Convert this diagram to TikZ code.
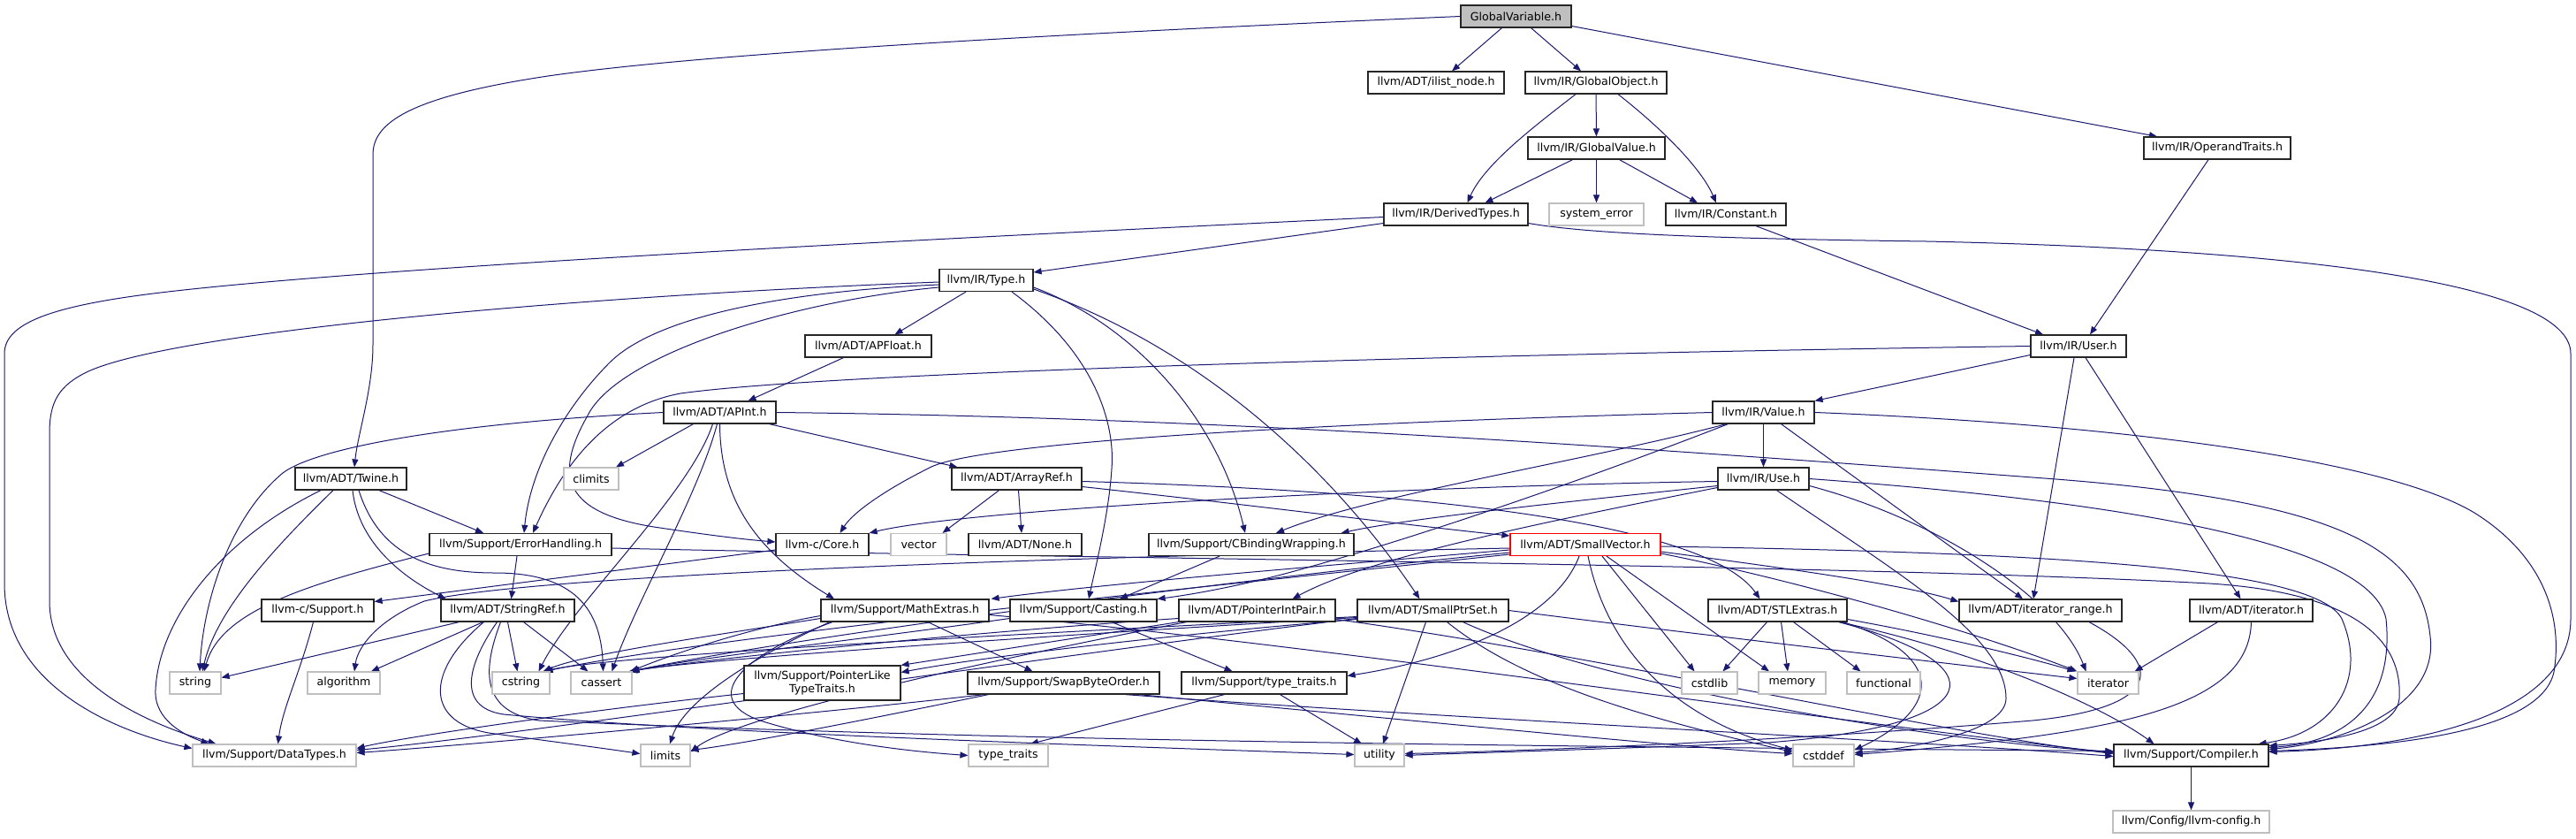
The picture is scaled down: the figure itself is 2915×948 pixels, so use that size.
\documentclass[tikz,border=0pt]{standalone}
\usepackage{fontspec}
\setmainfont{DejaVu Sans}
\usetikzlibrary{arrows.meta,calc}
\definecolor{edgeblue}{HTML}{191970}
\definecolor{sysgray}{HTML}{BFBFBF}
\pgfdeclarelayer{bgl}
\pgfdeclarelayer{edgel}
\pgfsetlayers{bgl,edgel,main}
\begin{document}
\begin{tikzpicture}[x=1pt,y=-1pt,
  nb/.style={draw=black!85,line width=1.2pt,rectangle,inner sep=0pt,minimum height=25pt,font=\fontsize{12.6}{15}\selectfont,fill=white},
  sys/.style={nb,draw=sysgray},
  e/.style={draw=edgeblue,line width=1pt,-{Triangle[length=9pt,width=7pt]}}]
\begin{pgfonlayer}{bgl}
\fill[white] (0,0) rectangle (2915,948);
\end{pgfonlayer}
\useasboundingbox (0,0) rectangle (2915,948);
% ---------- nodes ----------
\node[nb,fill=sysgray,minimum width=125pt] (gv) at (1715.5,18.5) {GlobalVariable.h};
\node[nb,minimum width=154pt] (ilist) at (1625,93.5) {llvm/ADT/ilist\_node.h};
\node[nb,minimum width=160pt] (gobj) at (1806,93.5) {llvm/IR/GlobalObject.h};
\node[nb,minimum width=155pt] (gval) at (1806.5,167.5) {llvm/IR/GlobalValue.h};
\node[nb,minimum width=166pt] (optr) at (2509,167.5) {llvm/IR/OperandTraits.h};
\node[nb,minimum width=163pt] (dtypes) at (1647.5,242.5) {llvm/IR/DerivedTypes.h};
\node[sys,minimum width=107pt] (syserr) at (1806.5,242.5) {system\_error};
\node[nb,minimum width=136pt] (const) at (1953,242.5) {llvm/IR/Constant.h};
\node[nb,minimum width=106pt] (type) at (1116,317) {llvm/IR/Type.h};
\node[nb,minimum width=143pt] (apfloat) at (982.5,391.5) {llvm/ADT/APFloat.h};
\node[nb,minimum width=108pt] (user) at (2352,391.5) {llvm/IR/User.h};
\node[nb,minimum width=127pt] (apint) at (814.5,466.5) {llvm/ADT/APInt.h};
\node[nb,minimum width=115pt] (value) at (1995.5,466.5) {llvm/IR/Value.h};
\node[nb,minimum width=126pt] (twine) at (397,541.5) {llvm/ADT/Twine.h};
\node[sys,minimum width=62pt] (climits) at (669,541.5) {climits};
\node[nb,minimum width=147pt] (arrayref) at (1150.5,541.5) {llvm/ADT/ArrayRef.h};
\node[nb,minimum width=103pt] (use) at (1995.5,541.5) {llvm/IR/Use.h};
\node[nb,minimum width=206pt] (errh) at (589,616) {llvm/Support/ErrorHandling.h};
\node[nb,minimum width=105pt] (core) at (930.5,616) {llvm-c/Core.h};
\node[sys,minimum width=63pt] (vector) at (1039.5,616) {vector};
\node[nb,minimum width=128pt] (none) at (1160,616) {llvm/ADT/None.h};
\node[nb,minimum width=232pt] (cbw) at (1416,616) {llvm/Support/CBindingWrapping.h};
\node[nb,draw=red,minimum width=170pt] (svec) at (1794,616) {llvm/ADT/SmallVector.h};
\node[nb,minimum width=127pt] (csupport) at (359.5,690.5) {llvm-c/Support.h};
\node[nb,minimum width=151pt] (stringref) at (574.5,690.5) {llvm/ADT/StringRef.h};
\node[nb,minimum width=190pt] (mathext) at (1024,690.5) {llvm/Support/MathExtras.h};
\node[nb,minimum width=166pt] (casting) at (1226,690.5) {llvm/Support/Casting.h};
\node[nb,minimum width=177pt] (pip) at (1422.5,690.5) {llvm/ADT/PointerIntPair.h};
\node[nb,minimum width=171pt] (sps) at (1621.5,690.5) {llvm/ADT/SmallPtrSet.h};
\node[nb,minimum width=157pt] (stlext) at (2011.5,690.5) {llvm/ADT/STLExtras.h};
\node[nb,minimum width=184pt] (itrange) at (2309,690.5) {llvm/ADT/iterator\_range.h};
\node[nb,minimum width=139pt] (iterh) at (2547.5,690.5) {llvm/ADT/iterator.h};
\node[sys,minimum width=58pt] (string) at (221,772.5) {string};
\node[sys,minimum width=82pt] (algorithm) at (389,772.5) {algorithm};
\node[sys,minimum width=65pt] (cstring) at (589.5,772.5) {cstring};
\node[sys,minimum width=69pt] (cassert) at (680.5,772.5) {cassert};
\node[nb,minimum width=177pt,minimum height=39pt,align=center] (pltt) at (930.5,772.5) {llvm/Support/PointerLike\\TypeTraits.h};
\node[nb,minimum width=217pt] (sbo) at (1203.5,772.5) {llvm/Support/SwapByteOrder.h};
\node[nb,minimum width=187pt] (sttraits) at (1430.5,772.5) {llvm/Support/type\_traits.h};
\node[sys,minimum width=63pt] (cstdlib) at (1934.5,772.5) {cstdlib};
\node[sys,minimum width=76pt] (memory) at (2028,772.5) {memory};
\node[sys,minimum width=83pt] (functional) at (2131.5,772.5) {functional};
\node[sys,minimum width=69pt] (iterator) at (2385.5,772.5) {iterator};
\node[sys,minimum width=185pt] (datatypes) at (310.5,854.5) {llvm/Support/DataTypes.h};
\node[sys,minimum width=56pt] (limits) at (753,854.5) {limits};
\node[sys,minimum width=90pt] (typetraits) at (1141,854.5) {type\_traits};
\node[sys,minimum width=56pt] (utility) at (1561,854.5) {utility};
\node[sys,minimum width=69pt] (cstddef) at (2063.5,854.5) {cstddef};
\node[nb,minimum width=175pt] (compiler) at (2479.5,854.5) {llvm/Support/Compiler.h};
\node[sys,minimum width=177pt] (llvmconfig) at (2479.5,929.5) {llvm/Config/llvm-config.h};
% ---------- edges (behind the nodes) ----------
\begin{pgfonlayer}{edgel}
\draw[e] ($(gv.south)+(-16,0)$) -- ($(ilist.north)+(18,0)$);
\draw[e] ($(gv.south)+(17,0)$) -- ($(gobj.north)+(-17,0)$);
\draw[e] ($(gv.east)+(0,11)$) -- ($(optr.north)+(-68,0)$);
\draw[e] (gv.west) .. controls (1200,38) and (800,60) .. (620,86) .. controls (460,110) and (422,140) .. (422,175) -- (422,390) .. controls (422,440) and (405,490) .. ($(twine.north)+(4,0)$);
\draw[e] ($(gobj.south)+(-23,0)$) .. controls (1740,140) and (1680,185) .. ($(dtypes.north)+(13,0)$);
\draw[e] (gobj) -- (gval);
\draw[e] ($(gobj.south)+(25,0)$) .. controls (1880,145) and (1925,190) .. ($(const.north)+(-11,0)$);
\draw[e] ($(gval.south)+(-27,0)$) -- ($(dtypes.north)+(33,0)$);
\draw[e] (gval) -- (syserr);
\draw[e] ($(gval.south)+(26,0)$) -- ($(const.north)+(-32,0)$);
\draw[e] ($(const.south)+(34,0)$) -- ($(user.north)+(-40,0)$);
\draw[e] ($(optr.south)+(-10,0)$) -- ($(user.north)+(13,0)$);
\draw[e] ($(dtypes.west)+(0,10)$) -- ($(type.east)+(0,-9)$);
\draw[e] ($(dtypes.west)+(0,3)$) .. controls (1100,268) and (450,300) .. (190,330) .. controls (60,345) and (5,365) .. (5,400) -- (5,660) .. controls (5,770) and (120,825) .. ($(datatypes.west)+(0,-8)$);
\draw[e] ($(dtypes.east)+(0,10)$) .. controls (1800,265) and (1950,270) .. (2180,273) .. controls (2600,282) and (2909,320) .. (2909,400) -- (2909,700) .. controls (2909,800) and (2760,845) .. ($(compiler.east)+(0,-4)$);
\draw[e] ($(type.south)+(-23,0)$) -- ($(apfloat.north)+(30,0)$);
\draw[e] ($(apfloat.south)+(-28,0)$) -- ($(apint.north)+(32,0)$);
\draw[e] ($(type.west)+(0,2)$) .. controls (650,335) and (200,375) .. (100,420) .. controls (66,436) and (56,455) .. (56,490) -- (56,680) .. controls (56,780) and (190,825) .. ($(datatypes.north)+(-66,0)$);
\draw[e] ($(type.west)+(0,5)$) .. controls (880,330) and (740,360) .. (690,410) .. controls (640,460) and (600,530) .. ($(errh.north)+(4,0)$);
\draw[e] ($(type.west)+(0,8)$) .. controls (900,340) and (700,400) .. (665,470) .. controls (625,540) and (640,580) .. (740,596) .. controls (800,605) and (840,610) .. ($(core.west)+(0,-3)$);
\draw[e] (user.west) .. controls (1700,400) and (950,420) .. (770,445) .. controls (690,460) and (640,520) .. ($(errh.north)+(14,0)$);
\draw[e] (apint.west) .. controls (520,478) and (360,505) .. (320,535) .. controls (260,585) and (230,680) .. ($(string.north)+(5,0)$);
\draw[e] ($(apint.south)+(-30,0)$) -- ($(climits.north)+(28,0)$);
\draw[e] ($(apint.south)+(-8,0)$) .. controls (780,560) and (650,680) .. ($(cstring.north)+(20,0)$);
\draw[e] ($(apint.south)+(-3,0)$) .. controls (790,560) and (720,680) .. ($(cassert.north)+(12,0)$);
\draw[e] (apint.south) .. controls (815,560) and (850,620) .. ($(mathext.north)+(-80,0)$);
\draw[e] ($(apint.south)+(56,0)$) -- ($(arrayref.north)+(-67,0)$);
\draw[e] (apint.east) .. controls (1400,472) and (1900,510) .. (2300,540) .. controls (2650,565) and (2740,620) .. (2750,720) .. controls (2760,800) and (2650,840) .. ($(compiler.east)+(0,-7)$);
\draw[e] ($(arrayref.south)+(2,0)$) -- ($(none.north)+(-4,0)$);
\draw[e] ($(arrayref.south)+(-20,0)$) -- ($(vector.north)+(27,0)$);
\draw[e] ($(arrayref.east)+(0,9)$) .. controls (1450,575) and (1600,595) .. ($(svec.west)+(0,-10)$);
\draw[e] ($(arrayref.east)+(0,3)$) .. controls (1600,555) and (1930,590) .. ($(stlext.north)+(-20,0)$);
\draw[e] ($(twine.south)+(2,0)$) .. controls (405,610) and (450,650) .. ($(stringref.north)+(-70,0)$);
\draw[e] ($(twine.south)+(-34,0)$) .. controls (250,610) and (180,700) .. (176,780) .. controls (174,815) and (210,832) .. ($(datatypes.north)+(-74,0)$);
\draw[e] ($(twine.south)+(-20,0)$) .. controls (310,620) and (245,690) .. ($(string.north)+(8,0)$);
\draw[e] ($(twine.south)+(9,0)$) .. controls (430,630) and (490,648) .. (560,648) .. controls (640,648) and (680,680) .. ($(cassert.north)+(2,0)$);
\draw[e] ($(twine.south)+(32,0)$) -- ($(errh.north)+(-42,0)$);
\draw[e] ($(errh.south)+(-4,0)$) -- ($(stringref.north)+(4,0)$);
\draw[e] ($(errh.west)+(0,10)$) .. controls (350,660) and (250,690) .. ($(string.north)+(10,0)$);
\draw[e] ($(errh.east)+(0,4)$) .. controls (1100,630) and (2100,638) .. (2500,660) .. controls (2690,672) and (2718,740) .. (2715,790) .. controls (2712,830) and (2620,840) .. ($(compiler.east)+(0,-11)$);
\draw[e] ($(core.west)+(0,6)$) -- ($(csupport.east)+(0,-10)$);
\draw[e] ($(csupport.south)+(-5,0)$) .. controls (340,760) and (320,800) .. ($(datatypes.north)+(4,0)$);
\draw[e] ($(stringref.south)+(-55,0)$) -- ($(string.east)+(0,-6)$);
\draw[e] ($(stringref.south)+(-28,0)$) -- ($(algorithm.north)+(31,0)$);
\draw[e] (stringref.south) -- ($(cstring.north)+(-4,0)$);
\draw[e] ($(stringref.south)+(18,0)$) -- ($(cassert.north)+(-15,0)$);
\draw[e] ($(stringref.south)+(-27,0)$) .. controls (480,760) and (480,820) .. (560,830) .. controls (620,838) and (680,846) .. ($(limits.west)+(0,-2)$);
\draw[e] ($(stringref.south)+(-12,0)$) .. controls (530,750) and (515,800) .. (570,808) .. controls (800,830) and (1300,845) .. ($(utility.west)+(0,-1)$);
\draw[e] ($(stringref.south)+(-8,0)$) .. controls (545,760) and (545,805) .. (610,815) .. controls (1200,842) and (2000,846) .. ($(compiler.west)+(0,-5)$);
\draw[e] ($(mathext.south)+(26,0)$) -- ($(sbo.north)+(-35,0)$);
\draw[e] ($(mathext.east)+(0,5)$) .. controls (1500,730) and (2100,820) .. ($(compiler.west)+(0,-3)$);
\draw[e] ($(mathext.south)+(-82,0)$) .. controls (840,740) and (790,790) .. (860,815) .. controls (940,840) and (1030,850) .. (typetraits.west);
\draw[e] ($(mathext.west)+(0,6)$) .. controls (850,710) and (760,740) .. ($(cassert.north east)+(-2,0)$);
\draw[e] ($(mathext.west)+(0,9)$) .. controls (800,720) and (660,740) .. ($(cstring.north east)+(-8,0)$);
\draw[e] ($(mathext.south)+(-85,0)$) .. controls (860,740) and (775,790) .. ($(limits.north)+(5,0)$);
\draw[e] ($(casting.south)+(32,0)$) -- ($(sttraits.north)+(-36,0)$);
\draw[e] ($(casting.west)+(0,9)$) .. controls (1000,720) and (780,745) .. ($(cassert.north east)+(-1,0)$);
\draw[e] ($(cbw.south)+(-36,0)$) -- ($(casting.north)+(41,0)$);
\draw[e] (pip.south west) -- (pltt.north east);
\draw[e] ($(pip.east)+(0,10)$) .. controls (1800,740) and (2200,830) .. ($(compiler.west)+(0,-2)$);
\draw[e] ($(pip.west)+(0,9)$) .. controls (1100,715) and (800,745) .. ($(cassert.north east)+(-3,0)$);
\draw[e] ($(pip.south)+(-80,0)$) .. controls (1000,770) and (820,820) .. ($(limits.east)+(0,-4)$);
\draw[e] ($(pltt.west)+(0,12)$) .. controls (650,805) and (450,835) .. ($(datatypes.east)+(0,-8)$);
\draw[e] ($(sbo.south)+(-85,0)$) .. controls (1000,810) and (850,840) .. ($(limits.east)+(0,-6)$);
\draw[e] ($(sbo.south)+(-90,0)$) .. controls (900,810) and (500,845) .. ($(datatypes.east)+(0,-3)$);
\draw[e] ($(sbo.south)+(70,0)$) .. controls (1600,810) and (2200,840) .. ($(compiler.west)+(0,1)$);
\draw[e] ($(sbo.south)+(85,0)$) .. controls (1600,815) and (1900,845) .. ($(cstddef.west)+(0,-2)$);
\draw[e] ($(sttraits.south)+(-45,0)$) -- ($(typetraits.north)+(25,0)$);
\draw[e] ($(sttraits.south)+(18,0)$) -- ($(utility.north)+(-20,0)$);
\draw[e] ($(sps.south)+(-8,0)$) -- ($(utility.north)+(4,0)$);
\draw[e] ($(sps.south)+(16,0)$) .. controls (1720,770) and (1850,810) .. ($(cstddef.west)+(0,-4)$);
\draw[e] ($(sps.south)+(34,0)$) .. controls (1800,770) and (2150,835) .. ($(compiler.west)+(0,-4)$);
\draw[e] (sps.east) .. controls (1900,715) and (2200,750) .. ($(iterator.west)+(0,-5)$);
\draw[e] ($(sps.west)+(0,9)$) .. controls (1200,740) and (600,830) .. ($(datatypes.east)+(0,-6)$);
\draw[e] ($(sps.west)+(0,10)$) .. controls (1300,720) and (1100,745) .. ($(pltt.east)+(0,-12)$);
\draw[e] ($(sps.west)+(0,8)$) .. controls (1200,718) and (800,745) .. ($(cassert.north east)+(-4,0)$);
\draw[e] ($(sps.west)+(0,7)$) .. controls (1200,715) and (700,740) .. ($(cstring.north east)+(-8,0)$);
\draw[e] ($(type.east)+(0,10)$) .. controls (1350,390) and (1500,520) .. ($(sps.north)+(-15,0)$);
\draw[e] ($(type.east)+(0,8)$) .. controls (1290,370) and (1380,480) .. ($(cbw.north)+(-7,0)$);
\draw[e] ($(type.south)+(29,0)$) .. controls (1240,400) and (1262,480) .. (1258,530) .. controls (1255,580) and (1240,640) .. ($(casting.north)+(6,0)$);
\draw[e] (value) -- (use);
\draw[e] ($(value.south)+(20,0)$) -- ($(itrange.north)+(-20,0)$);
\draw[e] ($(value.south)+(-42,0)$) .. controls (1800,520) and (1550,560) .. ($(cbw.north)+(28,0)$);
\draw[e] ($(value.south)+(-40,0)$) .. controls (1800,540) and (1600,610) .. (1450,650) .. controls (1380,668) and (1330,675) .. (casting.north east);
\draw[e] (value.west) .. controls (1500,478) and (1100,500) .. (1050,530) .. controls (1000,555) and (965,580) .. ($(core.north)+(20,0)$);
\draw[e] (value.east) .. controls (2400,480) and (2700,520) .. (2800,580) .. controls (2880,630) and (2900,700) .. (2890,760) .. controls (2875,830) and (2700,845) .. ($(compiler.east)+(0,-5)$);
\draw[e] ($(use.west)+(0,8)$) .. controls (1800,565) and (1600,585) .. ($(cbw.north east)+(-15,0)$);
\draw[e] ($(use.west)+(0,10)$) .. controls (1750,590) and (1550,630) .. ($(pip.north)+(40,0)$);
\draw[e] ($(use.west)+(0,3)$) .. controls (1600,550) and (1100,575) .. (core.north east);
\draw[e] (use.east) .. controls (2300,560) and (2680,600) .. (2700,700) .. controls (2710,800) and (2650,840) .. ($(compiler.east)+(0,-9)$);
\draw[e] ($(use.south)+(15,0)$) .. controls (2150,650) and (2270,720) .. (2270,790) .. controls (2270,830) and (2150,848) .. ($(cstddef.east)+(0,-3)$);
\draw[e] ($(use.east)+(0,8)$) .. controls (2200,590) and (2330,680) .. ($(iterator.north)+(-25,0)$);
\draw[e] ($(user.south)+(-5,0)$) -- ($(itrange.north)+(-8,0)$);
\draw[e] ($(user.south)+(8,0)$) -- ($(iterh.north)+(-12,0)$);
\draw[e] ($(user.west)+(0,10)$) -- (value.north east);
\draw[e] ($(svec.east)+(0,8)$) .. controls (2000,640) and (2150,660) .. ($(itrange.west)+(0,-10)$);
\draw[e] ($(svec.east)+(0,2)$) .. controls (2300,625) and (2620,640) .. (2650,700) .. controls (2680,770) and (2640,830) .. ($(compiler.north east)+(-12,0)$);
\draw[e] ($(svec.east)+(0,10)$) .. controls (2050,660) and (2250,720) .. (iterator.north west);
\draw[e] ($(svec.south)+(3,0)$) .. controls (1820,740) and (1900,815) .. ($(cstddef.west)+(0,-6)$);
\draw[e] ($(svec.south)+(19,0)$) -- ($(cstdlib.north)+(-17,0)$);
\draw[e] ($(svec.south)+(24,0)$) -- ($(memory.north)+(-26,0)$);
\draw[e] ($(svec.south)+(-7,0)$) .. controls (1760,700) and (1650,745) .. ($(sttraits.east)+(0,-8)$);
\draw[e] ($(svec.west)+(0,6)$) .. controls (1500,640) and (1250,660) .. ($(mathext.north east)+(2,0)$);
\draw[e] ($(svec.west)+(0,9)$) .. controls (1400,655) and (900,720) .. ($(cassert.north east)+(-2,0)$);
\draw[e] ($(svec.west)+(0,11)$) .. controls (1400,660) and (800,720) .. ($(cstring.north east)+(-6,0)$);
\draw[e] ($(svec.west)+(0,4)$) .. controls (1200,630) and (600,650) .. (480,680) .. controls (430,700) and (405,730) .. ($(algorithm.north)+(12,0)$);
\draw[e] ($(stlext.south)+(-12,0)$) -- ($(cstdlib.north)+(15,0)$);
\draw[e] ($(stlext.south)+(4,0)$) -- ($(memory.north)+(-5,0)$);
\draw[e] ($(stlext.south)+(18,0)$) -- ($(functional.north)+(-26,0)$);
\draw[e] ($(stlext.south)+(70,0)$) .. controls (2250,740) and (2380,800) .. ($(compiler.north)+(-42,0)$);
\draw[e] ($(stlext.east)+(0,10)$) .. controls (2200,720) and (2300,745) .. ($(iterator.north west)+(-2,0)$);
\draw[e] ($(stlext.south east)+(-5,0)$) .. controls (2200,740) and (2200,800) .. ($(cstddef.east)+(0,-6)$);
\draw[e] ($(stlext.south east)+(-10,0)$) .. controls (2260,750) and (2260,820) .. (2000,840) .. controls (1800,848) and (1650,852) .. (utility.east);
\draw[e] ($(iterh.south)+(-38,0)$) -- ($(iterator.north east)+(-5,0)$);
\draw[e] (iterh.south) .. controls (2545,800) and (2400,830) .. ($(cstddef.east)+(0,-1)$);
\draw[e] ($(itrange.south)+(55,0)$) .. controls (2450,750) and (2450,800) .. (2300,815) .. controls (2000,840) and (1700,850) .. ($(utility.east)+(0,-2)$);
\draw[e] (compiler) -- (llvmconfig);
\end{pgfonlayer}
\end{tikzpicture}
\end{document}
